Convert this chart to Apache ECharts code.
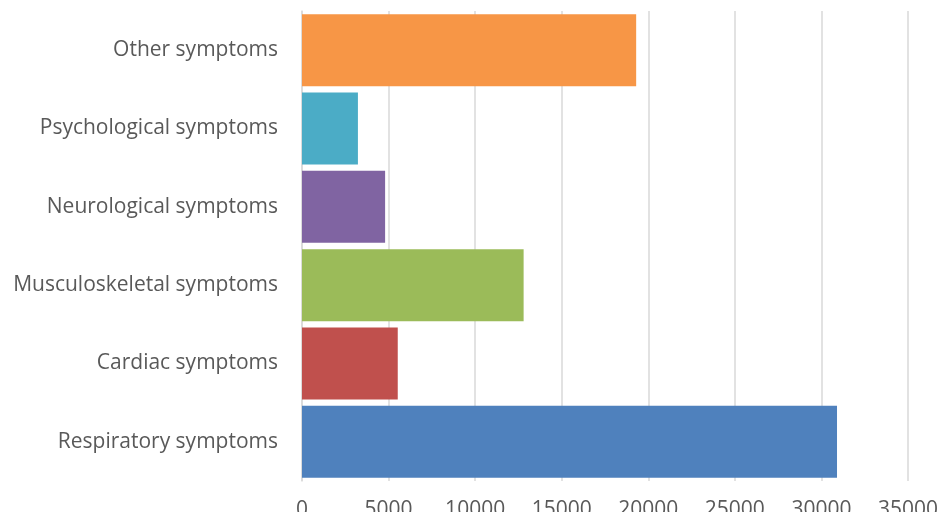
<!DOCTYPE html>
<html><head><meta charset="utf-8">
<script src="https://cdn.jsdelivr.net/npm/echarts@6/dist/echarts.min.js"></script>
<style>html,body{margin:0;padding:0;background:#fff}#c{width:938px;height:512px}</style>
</head><body><div id="c"></div>
<script>
const categories = ["Respiratory symptoms","Cardiac symptoms","Musculoskeletal symptoms","Neurological symptoms","Psychological symptoms","Other symptoms"];
const values = [30900, 5530, 12800, 4800, 3230, 19300];
const colors = ["#4F81BD","#C0504D","#9BBB59","#8064A2","#4BACC6","#F79646"];
const xTicks = [0,5000,10000,15000,20000,25000,30000,35000];

const chart = echarts.init(document.getElementById('c'));
chart.setOption({
  animation:false,
  grid:{left:302,right:30,top:11,bottom:31,containLabel:false,outerBoundsMode:'none'},
  xAxis:{type:'value',min:xTicks[0],max:xTicks[xTicks.length-1],interval:5000,
    axisLine:{show:false},axisTick:{show:false},
    splitLine:{lineStyle:{color:'#d9d9d9',width:1.5}},
    axisLabel:{color:'#595959',fontSize:21,fontFamily:'"Open Sans",sans-serif',margin:19,
      formatter:v=>String(v)}},
  yAxis:{type:'category',data:categories,
    axisLine:{show:true,lineStyle:{color:'#d9d9d9',width:1.5}},axisTick:{show:false},
    axisLabel:{color:'#595959',fontSize:21,fontFamily:'"Open Sans",sans-serif',margin:24}},
  series:[{type:'bar',barCategoryGap:'8%',
    data:values.map((v,i)=>({value:v,itemStyle:{color:colors[i]}}))}]
});
</script></body></html>
